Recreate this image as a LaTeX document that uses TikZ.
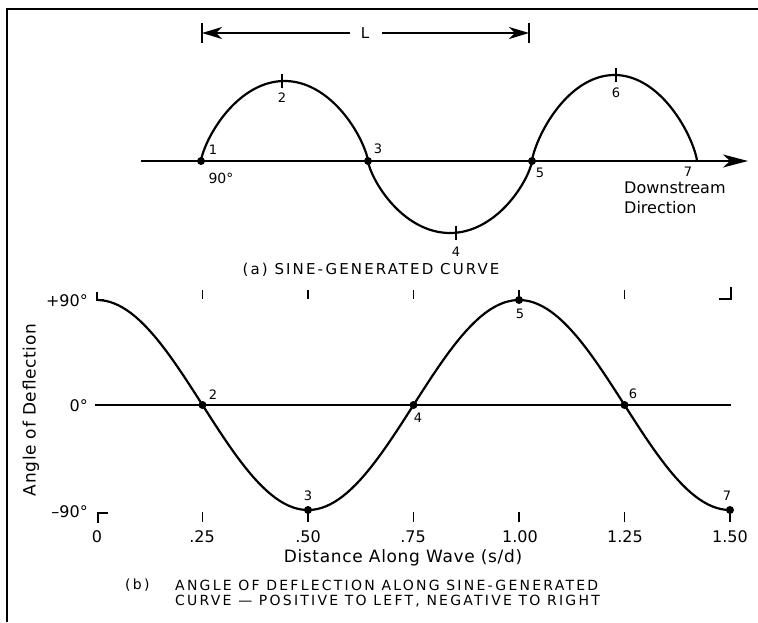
\documentclass[tikz,border=0pt]{standalone}
\usepackage{fontspec}
\setmainfont{DejaVu Sans}
\newfontfamily\capfont[LetterSpace=14]{DejaVu Sans}
\newfontfamily\capbfont[LetterSpace=16]{DejaVu Sans}
\newfontfamily\widefont[LetterSpace=4]{DejaVu Sans}
\usetikzlibrary{arrows.meta}
\newcommand\halfloop[4]{%
\draw[curve] plot[domain=0:180,samples=121] ({#1+#3*(1-cos(\x))},{#2+#4*sin(\x)*sqrt(abs(sin(\x)))});}
\begin{document}
\begin{tikzpicture}[x=1pt,y=-1pt,
 curve/.style={line width=2.2pt},
 axisline/.style={line width=1.8pt},
 tickmark/.style={line width=1.4pt},
 dot/.style={circle,fill=black,inner sep=0pt,minimum size=8pt},
 lbl/.style={font=\fontsize{13}{15}\selectfont, inner sep=0pt},
 num/.style={font=\fontsize{16}{18}\selectfont, inner sep=0pt},
 txt/.style={font=\fontsize{16}{20}\selectfont, inner sep=0pt},
 captxt/.style={font=\capbfont\fontsize{14}{17}\selectfont, inner sep=0pt},
]
\useasboundingbox (0,0) rectangle (758,622);
\fill[white] (0,0) rectangle (758,622);
% frame
\draw[line width=2.5pt] (7,622) -- (7,9) -- (758,9);

% ---------- (a) ----------
% L dimension
\coordinate (La) at (202,33);
\coordinate (Lb) at (529,33);
\node[txt,font=\fontsize{15}{17}\selectfont] (L) at (365,33) {L};
\draw[line width=1.8pt] (202,23) -- (202,43);
\draw[line width=1.8pt] (529,23) -- (529,43);
\draw[line width=1.8pt,{Stealth[length=20pt,width=12pt,inset=6pt]}-] (La) -- (350,33);
\draw[line width=1.8pt,-{Stealth[length=20pt,width=12pt,inset=6pt]}] (382,33) -- (Lb);

% axis
\coordinate (ax0) at (141,161);
\coordinate (ax1) at (748,161);
\draw[axisline,-{Stealth[length=25pt,width=13pt,inset=7pt]}] (ax0) -- (ax1);

% sine-generated curve
\halfloop{201}{161}{83.5}{-80}
\halfloop{368}{161}{82}{72}
\halfloop{532}{161}{82.5}{-86}

\node[dot] (a1) at (201,161) {};
\node[dot] (a3) at (368,161) {};
\node[dot] (a5) at (532,161) {};
\coordinate (a7) at (697,161);
\draw[tickmark] (282,74) -- (282,88);
\draw[tickmark] (456,226) -- (456,240);
\draw[tickmark] (616,68) -- (616,82);

\node[lbl] at (213,150) {1};
\node[lbl] at (282,98) {2};
\node[lbl] at (378,149) {3};
\node[lbl] at (456,252) {4};
\node[lbl] at (540,173) {5};
\node[lbl] at (616,93) {6};
\node[lbl] at (688,172) {7};
\node[txt,font=\fontsize{14}{16}\selectfont] at (221,178) {90°};
\node[txt,anchor=west,align=left] at (624,198) {Downstream\\Direction};
\node[inner sep=0pt,font=\capfont\fontsize{15}{17}\selectfont] at (371,270) {(a) SINE-GENERATED CURVE};

% ---------- (b) ----------
\draw[axisline] (95,405) -- (731,405);
\draw[curve] plot[domain=0:1.5,samples=150] ({97+422*\x},{405-105*cos(360*\x)});
% corner marks
\draw[tickmark] (97,292) -- (97,300) -- (104,300);
\draw[tickmark] (108,513) -- (98,513) -- (98,523);
\draw[tickmark] (719,299) -- (731,299) -- (731,287);
% ticks
\foreach \s in {0.25,0.5,0.75,1.0,1.25,1.5}{
  \draw[tickmark] ({97+422*\s},512) -- ({97+422*\s},522);
}
\foreach \s in {0.25,0.5,0.75,1.0,1.25}{
  \draw[tickmark] ({97+422*\s},290) -- ({97+422*\s},299);
}
\node[dot] (b2) at (202.5,405) {};
\node[dot] (b3) at (308,510) {};
\node[dot] (b4) at (413.5,405) {};
\node[dot] (b5) at (519,300) {};
\node[dot] (b6) at (624.5,405) {};
\node[dot] (b7) at (730,510) {};
\node[lbl] at (213,395) {2};
\node[lbl] at (308,496) {3};
\node[lbl] at (418,418) {4};
\node[lbl] at (520,314) {5};
\node[lbl] at (633,394) {6};
\node[lbl] at (727,496) {7};

\node[num,anchor=east] at (88,301) {+90°};
\node[num,anchor=east] at (88,406) {0°};
\node[num,anchor=east] at (88,512) {–90°};
\node[num] at (97,537) {0};
\node[num] at (202,537) {.25};
\node[num] at (308,537) {.50};
\node[num] at (413,537) {.75};
\node[num] at (520,537) {1.00};
\node[num] at (625,537) {1.25};
\node[num] at (730,537) {1.50};
\node[inner sep=0pt,font=\widefont\fontsize{17}{20}\selectfont] at (403,558) {Distance Along Wave (s/d)};
\node[inner sep=0pt,font=\widefont\fontsize{17}{20}\selectfont,rotate=90] at (31,410) {Angle of Deflection};
\node[captxt,anchor=west] (capb0) at (125,585) {(b)};
\node[captxt,anchor=west] (capb1) at (175,585) {ANGLE OF DEFLECTION ALONG SINE-GENERATED};
\node[captxt,anchor=west] (capb2) at (175,601) {CURVE — POSITIVE TO LEFT, NEGATIVE TO RIGHT};
\end{tikzpicture}
\end{document}
